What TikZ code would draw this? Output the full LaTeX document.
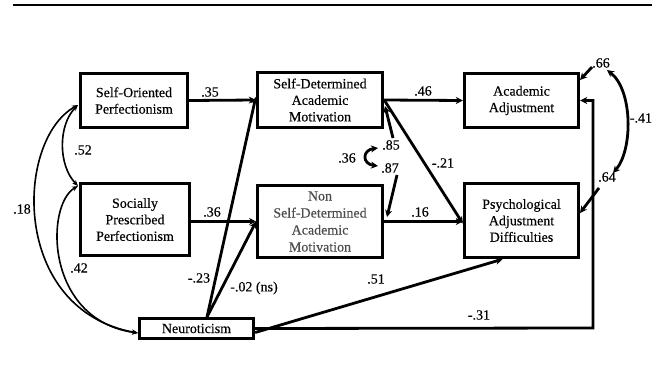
\documentclass[tikz,border=0pt]{standalone}
\usepackage{fontspec}
\setmainfont{Liberation Serif}[FakeBold=0.3]
\usetikzlibrary{arrows.meta,calc}
\begin{document}
\begin{tikzpicture}[x=1pt,y=-1pt,
  box/.style={draw,line width=3.4pt,inner sep=0pt,align=center,font=\fontsize{14}{16.5}\selectfont},
  lbl/.style={inner sep=0pt,font=\fontsize{14}{16}\selectfont},
  arr/.style={line width=2.8pt,-{Stealth[length=7pt,width=7pt]}},
  darr/.style={line width=2.8pt,{Stealth[length=7pt,width=7pt]}-{Stealth[length=7pt,width=7pt]}},
  thin/.style={line width=1.6pt,{Stealth[length=6pt,width=5pt]}-{Stealth[length=6pt,width=5pt]}}]
\useasboundingbox (0,0) rectangle (659,388);
\coordinate (ruleL) at (13,5);
\coordinate (ruleR) at (652,5);
\draw[line width=2.2pt] (ruleL) -- (ruleR);

\node[box,minimum width=107pt,minimum height=54pt] (SOP) at (134,100.5) {Self-Oriented\\Perfectionism};
\node[box,minimum width=125pt,minimum height=55pt] (SDAM) at (320,100) {Self-Determined\\Academic\\Motivation};
\node[box,minimum width=114pt,minimum height=54pt] (AA) at (521.5,100.5) {Academic\\Adjustment};
\node[box,minimum width=109pt,minimum height=72pt] (SPP) at (135,219.5) {Socially\\Prescribed\\Perfectionism};
\node[box,line width=2.8pt,text=black!70,minimum width=125pt,minimum height=72pt,font=\fontsize{14}{17}\selectfont] (NSDAM) at (320,221.5) {Non\\Self-Determined\\Academic\\Motivation};
\node[box,minimum width=114pt,minimum height=74pt] (PAD) at (521.5,220.5) {Psychological\\Adjustment\\Difficulties};
\node[box,minimum width=114pt,minimum height=20pt] (NEU) at (196.5,328.5) {Neuroticism};

% main paths
\draw[arr] (SOP.east) -- (SDAM.west);
\draw[arr] (SDAM.east) -- (AA.west);
\draw[arr] (SPP.east |- NSDAM.west) -- (NSDAM.west);
\draw[arr] (NSDAM.east) -- (NSDAM.east -| PAD.west);
\draw[arr] (SDAM.east) -- ([yshift=-3pt]PAD.west);
\coordinate (nt) at (207,317);
\draw[arr] (nt) -- ([yshift=3pt]SDAM.west);
\draw[arr] (nt) -- (NSDAM.west);
\draw[arr] ([yshift=-4pt]NEU.east) -- ([xshift=-19pt]PAD.south);
\coordinate (rc) at (593,328);
\draw[arr] (NEU.east) -- (rc) |- (AA.east);

% correlations left
\coordinate (sopw) at (78,105);
\coordinate (sppw) at (78,186);
\coordinate (neuw) at (138,333);
\draw[thin] (sopw) .. controls (58,125) and (58,165) .. (sppw);
\draw[thin] (sopw) .. controls (15,140) and (10,310) .. (neuw);
\draw[thin] (sppw) .. controls (45,205) and (45,320) .. (neuw);

% error terms
\coordinate (e66) at (592,67);
\coordinate (e66t) at (580,80);
\draw[arr] (e66) -- (e66t);
\coordinate (e64) at (599,188);
\coordinate (e64t) at (580,213);
\draw[arr] (e64) -- (e64t);
\coordinate (c41a) at (607,70);
\coordinate (c41b) at (613,173);
\draw[darr] (c41a) .. controls (633,90) and (633,150) .. (c41b);
\coordinate (e85) at (393,138);
\coordinate (e85t) at (385,106);
\draw[arr] (e85) -- (e85t);
\coordinate (e87) at (397,175);
\coordinate (e87t) at (387,217);
\draw[arr] (e87) -- (e87t);
\coordinate (c36a) at (378,148);
\coordinate (c36b) at (378,166);
\draw[darr] (c36a) .. controls (362,150) and (362,164) .. (c36b);

% labels
\node[lbl] (l35) at (210,92) {.35};
\node[lbl] (l46) at (423,91) {.46};
\node[lbl] (l36a) at (212,212) {.36};
\node[lbl] (l16) at (420,212) {.16};
\node[lbl] (l21) at (443,163) {-.21};
\node[lbl] (l23) at (199,278) {-.23};
\node[lbl] (l02) at (254,288) {-.02 (ns)};
\node[lbl] (l51) at (376,279) {.51};
\node[lbl] (l31) at (479,315) {-.31};
\node[lbl] (l52) at (83,150) {.52};
\node[lbl] (l18) at (22,209) {.18};
\node[lbl] (l42) at (79,268) {.42};
\node[lbl] (l66) at (601,63) {.66};
\node[lbl] (l64) at (607,177) {.64};
\node[lbl] (l41) at (641,118) {-.41};
\node[lbl] (l85) at (391,145) {.85};
\node[lbl] (l87) at (390,168) {.87};
\node[lbl] (l36) at (347,158) {.36};
\end{tikzpicture}
\end{document}
